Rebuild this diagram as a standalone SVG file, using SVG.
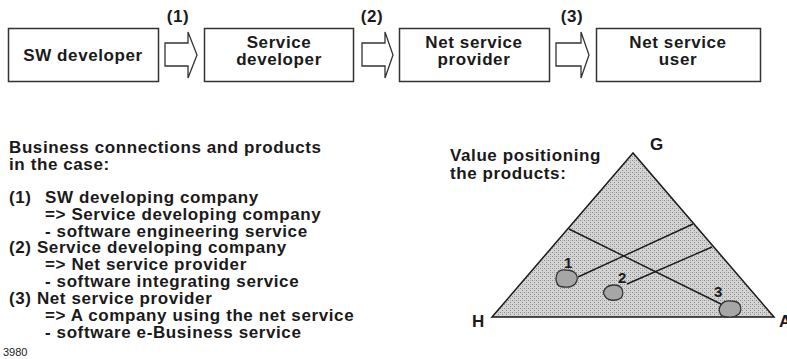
<svg xmlns="http://www.w3.org/2000/svg" width="787" height="359" viewBox="0 0 787 359">
  <style>
    text { font-family: "Liberation Sans", Arial, sans-serif; font-weight: bold; fill: #1a1a1a; }
    .lbl { font-size: 17px; letter-spacing: 0.6px; }
    .mid { text-anchor: middle; }
    .box { fill: #ffffff; stroke: #333333; stroke-width: 1.5; }
    .harrow { fill: #ffffff; stroke: #333333; stroke-width: 1.3; stroke-linejoin: miter; }
    .tri { fill: url(#stipple); stroke: #1a1a1a; stroke-width: 1.5; stroke-linejoin: miter; }
    .ray { stroke: #1a1a1a; stroke-width: 1.4; fill: none; }
    .blob { fill: #a6a6a6; stroke: #333333; stroke-width: 1.3; }
    .num { font-size: 15px; }
    .code { font-size: 11px; font-weight: normal; }
  </style>
  <defs>
    <pattern id="stipple" width="4" height="4" patternUnits="userSpaceOnUse">
      <rect width="4" height="4" fill="#d4d4d4"/>
      <rect x="0" y="0" width="1" height="1" fill="#8a8a8a"/>
      <rect x="2" y="2" width="1" height="1" fill="#8a8a8a"/>
      <rect x="2" y="0" width="1" height="1" fill="#b0b0b0"/>
    </pattern>
  </defs>

  <rect width="787" height="359" fill="#ffffff"/>

  <!-- value chain -->
  <g id="sw-developer">
    <rect class="box" x="8.5" y="28.5" width="150" height="53"/>
    <text class="lbl mid" x="83" y="61">SW developer</text>
  </g>
  <g id="service-developer">
    <rect class="box" x="204.5" y="28.5" width="149" height="53"/>
    <text class="lbl mid" x="279" y="48">Service</text>
    <text class="lbl mid" x="279" y="65">developer</text>
  </g>
  <g id="net-service-provider">
    <rect class="box" x="399.5" y="28.5" width="150" height="53"/>
    <text class="lbl mid" x="474" y="48">Net service</text>
    <text class="lbl mid" x="474" y="65">provider</text>
  </g>
  <g id="net-service-user">
    <rect class="box" x="596.5" y="28.5" width="164" height="53"/>
    <text class="lbl mid" x="678" y="48">Net service</text>
    <text class="lbl mid" x="678" y="65">user</text>
  </g>

  <g id="connectors">
    <path class="harrow" d="M165,43 H188 V32 L197,55 L188,78 V66 H165 Z"/>
    <path class="harrow" d="M362,43 H385 V32 L393,55 L385,78 V66 H362 Z"/>
    <path class="harrow" d="M556,43 H581 V32 L589,55 L581,78 V66 H556 Z"/>
    <text class="lbl mid" x="178" y="22">(1)</text>
    <text class="lbl mid" x="372" y="22">(2)</text>
    <text class="lbl mid" x="572" y="22">(3)</text>
  </g>

  <!-- case description -->
  <g id="case-text">
    <text class="lbl" x="9" y="153">Business connections and products</text>
    <text class="lbl" x="9" y="170">in the case:</text>
    <text class="lbl" x="9" y="203">(1)</text>
    <text class="lbl" x="45" y="203">SW developing company</text>
    <text class="lbl" x="45" y="220">=&gt; Service developing company</text>
    <text class="lbl" x="45" y="237">- software engineering service</text>
    <text class="lbl" x="9" y="253">(2) Service developing company</text>
    <text class="lbl" x="45" y="270">=&gt; Net service provider</text>
    <text class="lbl" x="45" y="287">- software integrating service</text>
    <text class="lbl" x="9" y="304">(3) Net service provider</text>
    <text class="lbl" x="45" y="321">=&gt; A company using the net service</text>
    <text class="lbl" x="45" y="338">- software e-Business service</text>
    <text class="code" x="3" y="356">3980</text>
  </g>

  <!-- value triangle -->
  <g id="value-triangle">
    <text class="lbl" x="450" y="161">Value positioning</text>
    <text class="lbl" x="450" y="179">the products:</text>
    <polygon class="tri" points="633,153 492,317 774,317"/>
    <line class="ray" x1="569" y1="229" x2="727" y2="307"/>
    <line class="ray" x1="578" y1="277" x2="693" y2="224"/>
    <line class="ray" x1="627" y1="284" x2="712" y2="247"/>
    <text class="lbl" x="650" y="150">G</text>
    <text class="lbl" x="472" y="327">H</text>
    <text class="lbl" x="779" y="327">A</text>
  </g>

  <g id="product-1">
    <path class="blob" d="M557,274 Q559,269 566,270 Q573,270 576,274 Q579,279 575,284 Q571,288 564,287 Q558,287 557,283 Q555,279 557,274 Z"/>
    <text class="lbl num" x="564" y="268">1</text>
  </g>
  <g id="product-2">
    <path class="blob" d="M605,289 Q608,285 614,285 Q620,285 622,289 Q624,294 621,298 Q617,301 611,300 Q606,299 605,296 Q602,293 605,289 Z"/>
    <text class="lbl num" x="618" y="283">2</text>
  </g>
  <g id="product-3">
    <path class="blob" d="M721,305 Q724,300 731,301 Q738,301 740,305 Q742,310 739,314 Q734,318 728,317 Q721,317 720,313 Q718,309 721,305 Z"/>
    <text class="lbl num" x="714" y="297">3</text>
  </g>
</svg>
